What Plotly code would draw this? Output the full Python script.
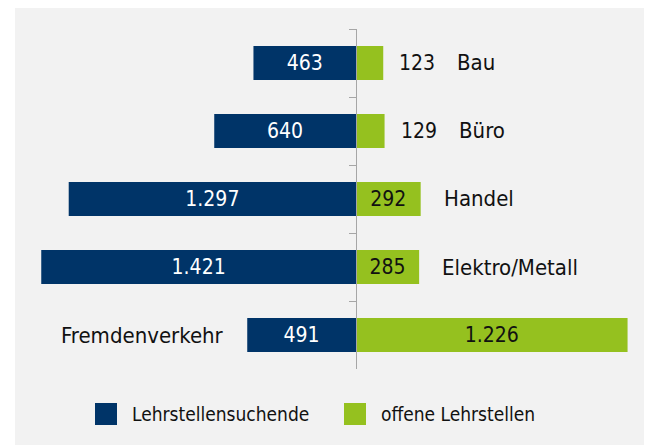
import plotly.graph_objects as go

# ---- data ----
categories = ["Bau", "Büro", "Handel", "Elektro/Metall", "Fremdenverkehr"]
lehrstellensuchende = [463, 640, 1297, 1421, 491]
offene_lehrstellen = [123, 129, 292, 285, 1226]
series_names = ["Lehrstellensuchende", "offene Lehrstellen"]

BLUE = "#003468"
GREEN = "#95c11f"
BG = "#f2f2f2"
AXIS = "#a6a6a6"
FONT = "DejaVu Sans Condensed, DejaVu Sans, sans-serif"
FS_NUM = 21
FS_CAT = 22
FS_LEG = 19


def fmt(v):
    return f"{v:,}".replace(",", ".")


# which green values fit inside their bar
green_inside = [v >= 200 for v in offene_lehrstellen]

fig = go.Figure()
fig.add_trace(go.Bar(
    y=categories, x=[-v for v in lehrstellensuchende], orientation="h",
    name=series_names[0], marker=dict(color=BLUE, line=dict(width=0)),
    width=0.5, text=[fmt(v) for v in lehrstellensuchende],
    textposition="inside", insidetextanchor="middle", constraintext="none",
    textfont=dict(color="white", size=FS_NUM, family=FONT),
    showlegend=False, hoverinfo="skip",
))
fig.add_trace(go.Bar(
    y=categories, x=offene_lehrstellen, orientation="h",
    name=series_names[1], marker=dict(color=GREEN, line=dict(width=0)),
    width=0.5,
    text=[fmt(v) if ins else "" for v, ins in zip(offene_lehrstellen, green_inside)],
    textposition="inside", insidetextanchor="middle", constraintext="none",
    textfont=dict(color="#111111", size=FS_NUM, family=FONT),
    showlegend=False, hoverinfo="skip",
))

annotations = []
# outside value labels for small green bars + category labels
for cat, b, g, ins in zip(categories, lehrstellensuchende, offene_lehrstellen, green_inside):
    if cat == "Fremdenverkehr":
        annotations.append(dict(x=-b, y=cat, xref="x", yref="y", text=cat,
                                xanchor="right", yanchor="middle", xshift=-21,
                                showarrow=False,
                                font=dict(size=FS_CAT, color="#111111", family=FONT)))
        continue
    if not ins:
        annotations.append(dict(x=g, y=cat, xref="x", yref="y", text=fmt(g),
                                xanchor="left", yanchor="middle", xshift=14,
                                showarrow=False,
                                font=dict(size=FS_NUM, color="#111111", family=FONT)))
        shift = 72
    else:
        shift = 21
    annotations.append(dict(x=g, y=cat, xref="x", yref="y", text=cat,
                            xanchor="left", yanchor="middle", xshift=shift,
                            showarrow=False,
                            font=dict(size=FS_CAT, color="#111111", family=FONT)))

# page has an 8px body margin: figure origin sits at page (8, 8)
OFF = 8
W, H = 644, 437          # figure size
L, T, R, B = 7, 0, 2, 0  # margins -> grey panel = plot area
PW, PH = W - L - R, H - T - B


def px(xp):  # page x -> paper fraction
    return (xp - OFF - L) / PW


def py(yp):  # page y -> paper fraction
    return (H - B - (yp - OFF)) / PH


shapes = [dict(type="rect", xref="paper", yref="paper", x0=0, x1=1, y0=0, y1=1,
               fillcolor=BG, line=dict(width=0), layer="below")]
legend_items = [(series_names[0], BLUE, 95), (series_names[1], GREEN, 344)]
for name, col, x0 in legend_items:
    shapes.append(dict(type="rect", xref="paper", yref="paper",
                       x0=px(x0), x1=px(x0 + 22), y0=py(425), y1=py(403),
                       fillcolor=col, line=dict(width=0)))
    annotations.append(dict(x=px(x0 + 35), y=py(414), xref="paper", yref="paper",
                            text=name, xanchor="left", yanchor="middle",
                            showarrow=False,
                            font=dict(size=FS_LEG, color="#111111", family=FONT)))

scale = 0.2215  # px per unit
x0_page = 356   # page x of the zero line
left_px = x0_page - OFF - L
right_px = PW - left_px
fig.update_layout(
    width=W, height=H,
    margin=dict(l=L, r=R, t=T, b=B, pad=0),
    paper_bgcolor="white", plot_bgcolor="rgba(0,0,0,0)",
    barmode="overlay",
    font=dict(family=FONT, size=FS_CAT, color="#111111"),
    showlegend=False,
    xaxis=dict(range=[-left_px / scale, right_px / scale],
               visible=False, fixedrange=True),
    yaxis=dict(type="category", categoryorder="array", categoryarray=categories,
               range=[4.5, -0.5], domain=[py(369), py(29)],
               anchor="free", position=px(x0_page),
               showline=True, linecolor=AXIS, linewidth=1,
               ticks="outside", tickson="boundaries", ticklen=7,
               tickcolor=AXIS, tickwidth=1,
               showticklabels=False, showgrid=False, zeroline=False),
    shapes=shapes,
    annotations=annotations,
)

fig.write_html("out.html")
